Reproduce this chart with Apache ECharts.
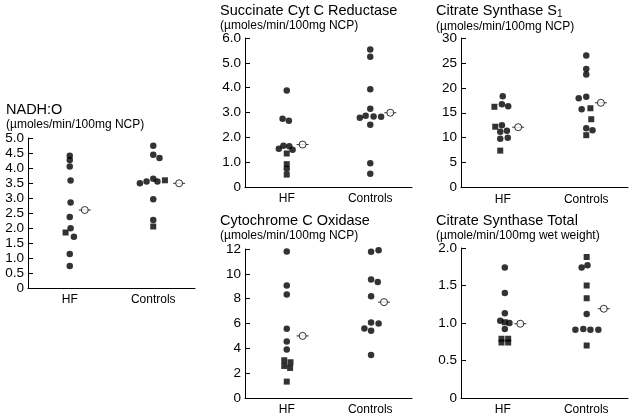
<!DOCTYPE html>
<html>
<head>
<meta charset="utf-8">
<script src="https://cdn.jsdelivr.net/npm/echarts@6/dist/echarts.min.js"></script>
<style>
  html, body { margin: 0; padding: 0; background: #fff; }
  #chart { width: 632px; height: 417px; }
</style>
</head>
<body>
<div id="chart"></div>
<script>
// group centres on the hidden x scale
const groups = ['HF', 'Controls']
const groupX = [1, 3]

// [jitter, value]
// NADH:O
const nadhHFCirc = [[0, 4.41], [0, 4.27], [0, 4.05], [0.02, 3.58], [0.02, 2.85], [0, 2.37], [0.02, 1.99], [0.1, 1.71], [0, 1.13], [0, 0.73]]
const nadhHFSq = [[-0.1, 1.85]]
const nadhCtlCirc = [[0, 4.74], [0, 4.44], [0.15, 4.33], [-0.32, 3.49], [-0.16, 3.55], [0, 3.64], [0.1, 3.55], [0, 2.96], [0, 2.27]]
const nadhCtlSq = [[0.28, 3.59], [0, 2.05]]
const nadhMean = [[0.36, 2.6], [0.62, 3.49]]
const nadhTicks = [0, 5, 0.5]

// Succinate Cyt C Reductase
const sdhHFCirc = [[0, 3.89], [-0.1, 2.75], [0.05, 2.67], [-0.19, 1.54], [-0.08, 1.66], [0.06, 1.64], [0.14, 1.5], [0, 0.73]]
const sdhHFSq = [[0, 1.35], [0, 0.92], [0, 0.5]]
const sdhCtlCirc = [[0, 5.54], [0, 5.24], [0, 3.94], [0, 3.15], [-0.25, 2.79], [-0.11, 2.87], [0.08, 2.84], [0.26, 2.83], [0, 2.51], [0, 0.96], [0, 0.53]]
const sdhCtlSq = []
const sdhMean = [[0.38, 1.71], [0.48, 2.99]]
const sdhTicks = [0, 6, 1]

// Citrate Synthase S1
const csHFCirc = [[0, 18.3], [-0.02, 16.7], [0.13, 16.3], [-0.02, 12.5], [0.1, 11.4], [-0.06, 11.2], [-0.06, 9.8], [0.12, 10.0]]
const csHFSq = [[-0.2, 16.2], [-0.18, 12.2], [-0.06, 7.4]]
const csCtlCirc = [[0, 26.5], [0, 23.8], [0, 22.7], [-0.18, 17.9], [0, 18.2], [-0.11, 15.7], [0, 11.9], [0.15, 11.5]]
const csCtlSq = [[0.1, 15.9], [0.12, 13.7], [0, 10.5]]
const csMean = [[0.37, 12.1], [0.35, 17.0]]
const csTicks = [0, 30, 5]

// Cytochrome C Oxidase
const coxHFCirc = [[0, 11.8], [0, 9.07], [0, 8.34], [0, 5.57], [0, 4.55], [0, 3.9]]
const coxHFSq = [[-0.06, 3.04], [0.09, 2.88], [-0.06, 2.58], [0.08, 2.42], [0, 1.32]]
const coxCtlCirc = [[0.02, 11.78], [0.2, 11.89], [0.02, 9.55], [0.18, 9.34], [0.02, 8.2], [0.02, 6.08], [0.2, 6.0], [-0.14, 5.6], [0.02, 5.41], [0.02, 3.47]]
const coxCtlSq = []
const coxMean = [[0.38, 5.0], [0.33, 7.72]]
const coxTicks = [0, 12, 2]

// Citrate Synthase Total
const cstHFCirc = [[0.05, 1.74], [0.05, 1.4], [0.05, 1.13], [-0.06, 1.03], [0.16, 1.0], [0.05, 0.92]]
const cstHFSq = [[0.05, 1.01], [-0.03, 0.79], [0.13, 0.79], [-0.03, 0.74], [0.13, 0.74]]
const cstCtlCirc = [[-0.11, 1.74], [0.03, 1.77], [0.01, 1.12], [-0.26, 0.91], [-0.07, 0.92], [0.1, 0.91], [0.29, 0.91]]
const cstCtlSq = [[0.01, 1.88], [0.01, 1.5], [0.01, 1.33], [0.01, 0.7]]
const cstMean = [[0.42, 0.99], [0.42, 1.19]]
const cstTicks = [0, 2, 0.5]

const FONT = '"Liberation Sans", Arial, sans-serif'
const unitNCP = '(µmoles/min/100mg NCP)'

const panels = [
  { title: 'NADH:O', sub: unitNCP, box: [28, 138, 167, 150], titlePos: [6, 102], ticks: nadhTicks, dec: 1,
    hf: [nadhHFCirc, nadhHFSq], ctl: [nadhCtlCirc, nadhCtlSq], mean: nadhMean },
  { title: 'Succinate Cyt C Reductase', sub: unitNCP, box: [245, 38, 167, 149], titlePos: [220, 3], ticks: sdhTicks, dec: 1,
    hf: [sdhHFCirc, sdhHFSq], ctl: [sdhCtlCirc, sdhCtlSq], mean: sdhMean },
  { title: 'Citrate Synthase S{s|1}', sub: unitNCP, box: [461, 38, 167, 149.5], titlePos: [436, 3], ticks: csTicks, dec: 0,
    hf: [csHFCirc, csHFSq], ctl: [csCtlCirc, csCtlSq], mean: csMean },
  { title: 'Cytochrome C Oxidase', sub: unitNCP, box: [245, 249, 167, 149], titlePos: [220, 213], ticks: coxTicks, dec: 0,
    hf: [coxHFCirc, coxHFSq], ctl: [coxCtlCirc, coxCtlSq], mean: coxMean },
  { title: 'Citrate Synthase Total', sub: '(µmole/min/100mg wet weight)', box: [461, 248, 167, 150], titlePos: [436, 213], ticks: cstTicks, dec: 1,
    hf: [cstHFCirc, cstHFSq], ctl: [cstCtlCirc, cstCtlSq], mean: cstMean }
]

const chart = echarts.init(document.getElementById('chart'), null, { renderer: 'canvas' })

const option = {
  backgroundColor: '#fff',
  animation: false,
  title: [],
  grid: [],
  xAxis: [],
  yAxis: [],
  series: []
}

// shift jitter onto the group centre
const place = (pts, g) => pts.map(p => [groupX[g] + p[0], p[1]])

panels.forEach((p, i) => {
  option.title.push({
    text: p.title,
    subtext: p.sub,
    left: p.titlePos[0],
    top: p.titlePos[1],
    padding: 0,
    itemGap: 2,
    textStyle: {
      fontFamily: FONT, fontSize: 14.5, fontWeight: 'normal', color: '#000',
      rich: { s: { fontFamily: FONT, fontSize: 10, color: '#000', verticalAlign: 'bottom', padding: [6, 0, 0, 0] } }
    },
    subtextStyle: { fontFamily: FONT, fontSize: 12, color: '#000' }
  })
  option.grid.push({ left: p.box[0], top: p.box[1], width: p.box[2], height: p.box[3], containLabel: false })
  option.xAxis.push({
    type: 'value', gridIndex: i, min: 0, max: 4, interval: 1,
    splitLine: { show: false },
    axisTick: { show: false },
    axisLine: { lineStyle: { color: '#000', width: 1 } },
    axisLabel: {
      fontFamily: FONT, fontSize: 12, color: '#000', margin: 6,
      formatter: v => (v === groupX[0] ? groups[0] : v === groupX[1] ? groups[1] : '')
    }
  })
  option.yAxis.push({
    type: 'value', gridIndex: i, min: p.ticks[0], max: p.ticks[1], interval: p.ticks[2],
    splitLine: { show: false },
    axisLine: { show: true, lineStyle: { color: '#000', width: 1 } },
    axisTick: { show: true, inside: true, length: 5, lineStyle: { color: '#000' } },
    axisLabel: {
      fontFamily: FONT, fontSize: 13.5, color: '#000', margin: 4,
      formatter: v => (v === 0 ? '0' : v.toFixed(p.dec))
    }
  })
  const dot = (data, symbol, size) => ({
    type: 'scatter', xAxisIndex: i, yAxisIndex: i, data, symbol, symbolSize: size,
    itemStyle: { color: '#000' }, silent: true
  })
  option.series.push(dot(place(p.hf[0], 0), 'circle', 6.5))
  option.series.push(dot(place(p.hf[1], 0), 'rect', 6))
  option.series.push(dot(place(p.ctl[0], 1), 'circle', 6.5))
  option.series.push(dot(place(p.ctl[1], 1), 'rect', 6))
  // group mean: open circle with a short dash through it
  const meanPts = p.mean.map((m, g) => [groupX[g] + m[0], m[1]])
  option.series.push(dot(meanPts, 'rect', [12, 1]))
  option.series.push({
    type: 'scatter', xAxisIndex: i, yAxisIndex: i, data: meanPts, symbol: 'circle', symbolSize: 7,
    itemStyle: { color: '#fff', borderColor: '#000', borderWidth: 1 }, silent: true
  })
})

chart.setOption(option)
</script>
</body>
</html>
